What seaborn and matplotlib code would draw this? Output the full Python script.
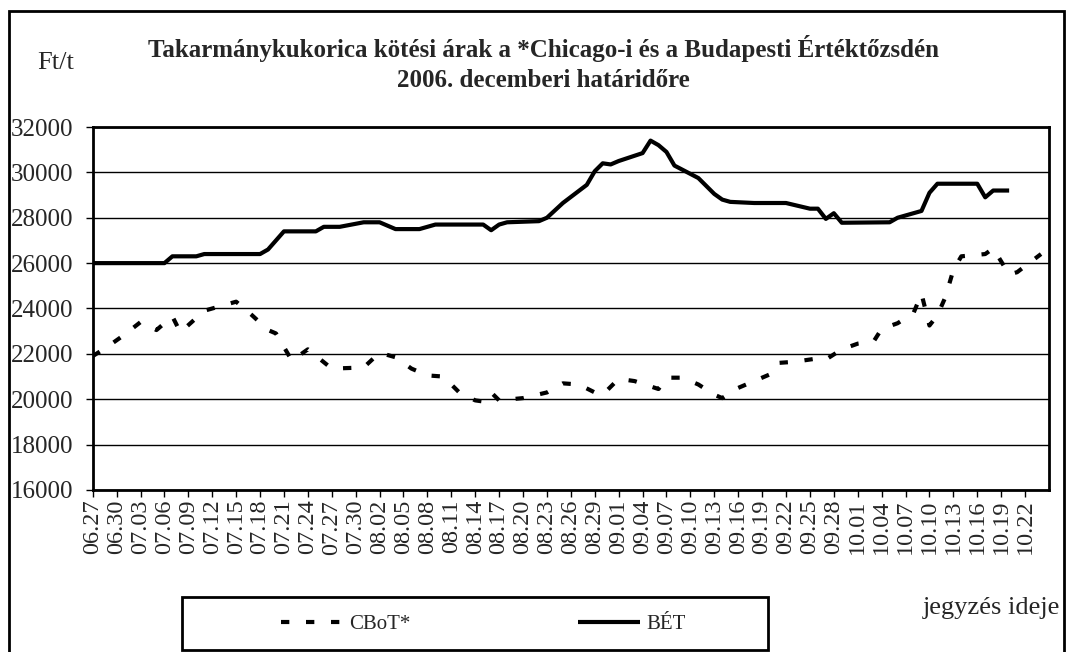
import pandas as pd
import seaborn as sns
import matplotlib.pyplot as plt
from matplotlib.patches import Rectangle

# BÉT (Budapest) futures price, Ft/t
bet_dates = ['06.27', '07.06', '07.07', '07.10', '07.11', '07.18', '07.19', '07.21', '07.25', '07.26',
             '07.28', '07.31', '08.02', '08.04', '08.07', '08.09', '08.15', '08.16', '08.17', '08.18',
             '08.22', '08.23', '08.25', '08.28', '08.29', '08.30', '08.31', '09.01', '09.04', '09.05',
             '09.06', '09.07', '09.08', '09.11', '09.13', '09.14', '09.15', '09.18', '09.22', '09.25',
             '09.26', '09.27', '09.28', '09.29', '10.05', '10.06', '10.09', '10.10', '10.11', '10.16',
             '10.17', '10.18', '10.20']
bet_values = [26000, 26000, 26300, 26300, 26400, 26400, 26600, 27400, 27400, 27600,
              27600, 27800, 27800, 27500, 27500, 27700, 27700, 27450, 27700, 27800,
              27850, 28000, 28650, 29450, 30050, 30400, 30350, 30500, 30850, 31400,
              31200, 30900, 30300, 29750, 29050, 28800, 28700, 28650, 28650, 28400,
              28400, 27950, 28200, 27780, 27800, 28000, 28300, 29100, 29500, 29500,
              28900, 29200, 29200]

# CBoT (Chicago) futures price converted to Ft/t
cbot_dates = ['06.27', '06.29', '07.01', '07.03', '07.05', '07.07', '07.08', '07.11', '07.15', '07.17',
              '07.19', '07.20', '07.22', '07.24', '07.27', '07.31', '08.02', '08.04', '08.06', '08.08',
              '08.10', '08.12', '08.14', '08.15', '08.16', '08.17', '08.20', '08.23', '08.25', '08.27',
              '08.29', '08.30', '09.01', '09.03', '09.06', '09.07', '09.09', '09.11', '09.13', '09.14',
              '09.16', '09.18', '09.20', '09.21', '09.23', '09.26', '09.27', '09.29', '10.01', '10.03',
              '10.04', '10.06', '10.08', '10.09', '10.10', '10.11', '10.12', '10.13', '10.14', '10.17',
              '10.18', '10.20', '10.21', '10.24']
cbot_values = [21900, 22350, 22850, 23400, 23050, 23650, 22950, 23900, 24300, 23700,
               23050, 22900, 21700, 22200, 21350, 21400, 22050, 21850, 21350, 21050,
               21000, 20300, 19950, 19900, 20300, 19950, 20050, 20300, 20700, 20650,
               20300, 20200, 20900, 20800, 20450, 20950, 20950, 20650, 20200, 20050,
               20500, 20800, 21100, 21600, 21650, 21800, 21750, 22200, 22450, 22550,
               23100, 23350, 23800, 24650, 23250, 23700, 24500, 25700, 26300, 26400,
               26650, 25500, 25600, 26400]

tick_labels = ['06.27', '06.30', '07.03', '07.06', '07.09', '07.12', '07.15', '07.18', '07.21', '07.24',
               '07.27', '07.30', '08.02', '08.05', '08.08', '08.11', '08.14', '08.17', '08.20', '08.23',
               '08.26', '08.29', '09.01', '09.04', '09.07', '09.10', '09.13', '09.16', '09.19', '09.22',
               '09.25', '09.28', '10.01', '10.04', '10.07', '10.10', '10.13', '10.16', '10.19', '10.22']

start = pd.Timestamp('2006-06-27')


def to_days(dates):
    return [(pd.to_datetime('2006.' + d, format='%Y.%m.%d') - start).days for d in dates]


bet = pd.DataFrame({'day': to_days(bet_dates), 'price': bet_values})
cbot = pd.DataFrame({'day': to_days(cbot_dates), 'price': cbot_values})

sns.set_style('white')
plt.rcParams['font.family'] = ['Liberation Serif', 'DejaVu Serif']

fig = plt.figure(figsize=(10.68, 6.52), dpi=100)
ax = fig.add_axes([0.0868, 0.2485, 0.8954, 0.5567])

sns.lineplot(data=cbot, x='day', y='price', ax=ax, color='black', linewidth=3.0,
             linestyle=(0, (2.0, 4.0)), dash_capstyle='butt', label='CBoT*')
sns.lineplot(data=bet, x='day', y='price', ax=ax, color='black', linewidth=3.0,
             solid_capstyle='butt', label='BÉT')
if ax.get_legend() is not None:
    ax.get_legend().remove()

ax.set_xlim(0, 120)
ax.set_ylim(16000, 32000)
ax.set_yticks(range(16000, 32001, 2000))
ax.set_yticklabels([str(v) for v in range(16000, 32001, 2000)], fontsize=18)
ax.set_xticks(to_days(tick_labels))
ax.set_xticklabels(tick_labels, rotation=90, fontsize=17.5)
ax.set_xlabel('')
ax.set_ylabel('')
ax.grid(axis='y', color='black', linewidth=1.0)
ax.grid(axis='x', visible=False)
for s in ax.spines.values():
    s.set_linewidth(2.0)
    s.set_color('black')
ax.tick_params(axis='both', direction='out', length=5, width=1, color='black',
               left=True, bottom=True)
ax.tick_params(axis='y', pad=9)
ax.tick_params(axis='x', pad=2)

# titles and axis texts
fig.text(0.509, 0.9026, 'Takarmánykukorica kötési árak a *Chicago-i és a Budapesti Értéktőzsdén\n'
         '2006. decemberi határidőre', ha='center', va='center', fontsize=18,
         fontweight='bold', linespacing=1.4)
fig.text(0.052, 0.903, 'Ft/t', ha='center', va='center', fontsize=19)
fig.text(0.928, 0.067, 'jegyzés ideje', ha='center', va='center', fontsize=19)

# outer frame
fig.patches.append(Rectangle((0.0085, -0.01), 0.988, 0.993, transform=fig.transFigure,
                             fill=False, edgecolor='black', linewidth=2))
# legend box
fig.patches.append(Rectangle((182 / 1068, 1 - 650 / 652), 586 / 1068, 53 / 652,
                             transform=fig.transFigure, fill=False, edgecolor='black', linewidth=2))
handles, labels = ax.get_legend_handles_labels()
fig.legend(handles, labels, loc='center left', bbox_to_anchor=(262 / 1068, 1 - 624 / 652),
           ncol=2, frameon=False, fontsize=15, handlelength=3.0, handletextpad=0.3,
           columnspacing=8.0)

fig.savefig('out.png', dpi=100)
